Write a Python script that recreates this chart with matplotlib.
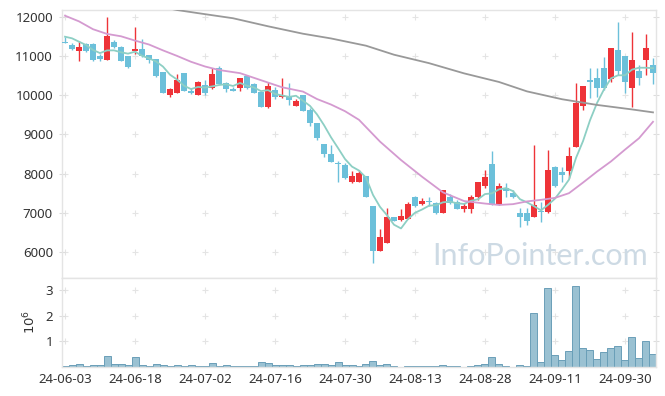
import numpy as np
import pandas as pd
import matplotlib
matplotlib.use("agg")
import matplotlib.pyplot as plt

# trading days (KRX), holidays removed
holidays = ['2024-06-06', '2024-08-15', '2024-09-16', '2024-09-17',
            '2024-09-18', '2024-10-01', '2024-10-03']
dates = pd.bdate_range('2024-06-03', '2024-10-08').drop(pd.to_datetime(holidays))

opens = [11350, 11286, 11133, 11296, 11310, 11005, 10900, 11360, 11225, 11000,
         11120, 11175, 11020, 10915, 10590, 10010, 10060, 10565, 10110, 10010,
         10250, 10180, 10685, 10320, 10165, 10190, 10490, 10275, 10080, 9705,
         10130, 9945, 9980, 9730, 10005, 9620, 9300, 8755, 8500, 8250,
         8220, 7775, 7790, 7940, 7175, 6035, 6235, 6885, 6815, 6830,
         7400, 7215, 7290, 7240, 7000, 7395, 7265, 7095, 7095, 7395,
         7685, 8245, 7200, 7640, 7510, 7000, 7000, 6885, 7050, 7030,
         8175, 8030, 8075, 8685, 9725, 10385, 10430, 10685, 10410, 11150,
         11000, 10190, 10615, 10895, 10770]
closes = [11330, 11176, 11227, 11125, 10900, 10930, 11515, 11235, 10880, 10725,
          11180, 11000, 10900, 10490, 10062, 10150, 10385, 10110, 10065, 10335,
          10060, 10540, 10285, 10165, 10115, 10440, 10190, 10060, 9705, 10240,
          9960, 9995, 9875, 9850, 9605, 9300, 8915, 8505, 8300, 8240,
          7895, 7945, 8005, 7395, 6035, 6375, 6885, 6790, 6920, 7225,
          7180, 7300, 7275, 7000, 7580, 7260, 7105, 7180, 7405, 7775,
          7920, 7200, 7685, 7565, 7395, 6885, 6800, 7200, 7030, 8090,
          7685, 7970, 8450, 9790, 10235, 10340, 10175, 10190, 11195, 10625,
          10345, 10895, 10430, 11195, 10570]
highs = [11480, 11322, 11388, 11320, 11320, 11060, 11985, 11400, 11240, 11000,
         11730, 11440, 11030, 10920, 10595, 10180, 10530, 10565, 10175, 10350,
         10385, 10685, 10745, 10345, 10210, 10445, 10510, 10300, 10085, 10335,
         10200, 10430, 10310, 9900, 10005, 9680, 9300, 8755, 8720, 8320,
         8280, 8075, 8090, 7940, 7180, 6580, 7115, 6900, 7090, 7270,
         7420, 7380, 7395, 7280, 7590, 7470, 7330, 7240, 7455, 7790,
         8090, 8575, 7750, 7770, 7580, 7115, 7115, 8730, 7280, 8600,
         8200, 8175, 8670, 10320, 10240, 10685, 10685, 10980, 11195, 11860,
         11000, 11620, 10760, 11550, 10940]
lows = [11320, 11158, 10878, 11100, 10870, 10865, 10895, 11200, 10860, 10700,
        11040, 10965, 10810, 10470, 10060, 9960, 10045, 10100, 10020, 10000,
        10000, 10160, 10280, 10080, 10110, 10110, 10160, 10050, 9700, 9680,
        9900, 9920, 9750, 9725, 9600, 9210, 8855, 8430, 8290, 7790,
        7855, 7750, 7780, 7390, 5730, 6030, 6230, 6780, 6795, 6830,
        7140, 7200, 7175, 6980, 6995, 7225, 7100, 7025, 6985, 7330,
        7625, 7195, 7195, 7410, 7370, 6630, 6690, 6880, 6770, 6990,
        7665, 7795, 7880, 8670, 9620, 9920, 9945, 10130, 10340, 10515,
        10060, 9705, 10260, 10515, 10285]
# volume in thousands of shares
volume = [30, 65, 105, 25, 65, 65, 420, 105, 105, 65,
          380, 65, 25, 105, 65, 25, 65, 25, 65, 25,
          25, 145, 25, 65, 25, 25, 25, 25, 180, 145,
          65, 65, 65, 25, 65, 65, 105, 105, 65, 180,
          65, 65, 25, 105, 220, 65, 105, 25, 10, 25,
          25, 25, 25, 25, 65, 25, 25, 10, 25, 65,
          105, 375, 105, 25, 10, 65, 25, 2100, 180, 3100,
          455, 275, 610, 3150, 730, 650, 300, 570, 730, 810,
          275, 1160, 340, 1000, 495]

# closes before 24-06-03 (seed for 5-day MA)
prior_closes = [11380, 11660, 11545, 11530]

# 20-day MA, read at sample days
ma20_idx = [0, 2, 4, 6, 8, 10, 12, 14, 16, 18, 20, 22, 25, 28, 31, 34, 36, 38, 40,
            42, 45, 48, 51, 54, 57, 60, 62, 64, 66, 68, 70, 72, 74, 76, 78, 80, 82, 84]
ma20_val = [12025, 11880, 11680, 11560, 11500, 11390, 11290, 11140, 11000, 10850,
            10730, 10640, 10560, 10380, 10200, 10090, 9900, 9760, 9590,
            9370, 8815, 8345, 7920, 7520, 7300, 7235, 7200, 7220, 7290, 7330,
            7380, 7500, 7770, 8050, 8310, 8610, 8900, 9320]
# long MA (grey), read at sample days
ma60_idx = [14, 16, 19, 24, 29, 34, 38, 43, 47, 52, 57, 62, 66, 71, 76, 81, 84]
ma60_val = [12240, 12170, 12090, 11960, 11755, 11565, 11445, 11260, 11030, 10815,
            10555, 10335, 10095, 9895, 9750, 9635, 9560]

plt.rcParams['font.family'] = ['Noto Sans', 'DejaVu Sans']

o = np.array(opens, float)
c = np.array(closes, float)
x = np.arange(len(c))
up = c >= o
colors = np.where(up, '#ee3338', '#6cc0da')

fig = plt.figure(figsize=(6.65, 3.96), dpi=100)
ax = fig.add_axes([62/665, 1-277.5/396, 594/665, 267.5/396])
axv = fig.add_axes([62/665, 1-367/396, 594/665, 89.5/396], sharex=ax)

# grid crosses
xt = np.arange(0, 85, 10)
gx, gy = np.meshgrid(xt, np.arange(6000, 12001, 1000))
ax.scatter(gx.ravel(), gy.ravel(), marker='+', s=22, color='#e4e4e4', lw=0.8, zorder=1)
gx, gy = np.meshgrid(xt, [1, 2, 3])
axv.scatter(gx.ravel(), gy.ravel(), marker='+', s=22, color='#e4e4e4', lw=0.8, zorder=1)

ax.vlines(x, lows, highs, colors=colors, linewidth=1.0, zorder=2)
ax.bar(x, np.maximum(np.abs(c - o), 20), bottom=np.minimum(o, c), width=0.72,
       color=colors, linewidth=0, zorder=3)

ma5 = pd.Series(prior_closes + closes).rolling(5).mean().values[4:]
ax.plot(x, ma5, color='#8dcfc4', lw=1.3, zorder=4)
ax.plot(ma20_idx, ma20_val, color='#d49ad0', lw=1.3, zorder=4)
ax.plot(ma60_idx, ma60_val, color='#999999', lw=1.3, zorder=4)

ax.text(0.9865, 0.047, 'InfoPointer.com', transform=ax.transAxes, ha='right',
        va='baseline', fontsize=22, color='#cddae4', family='Lato', zorder=1)

ax.set_xlim(-0.43, 84.43)
ax.set_ylim(5350, 12170)
ax.set_yticks(range(6000, 12001, 1000))
ax.tick_params(axis='y', direction='inout', length=5, color='#dddddd', width=0.8,
               labelsize=9.5, labelcolor='#333333', right=True, pad=4)
ax.tick_params(axis='x', bottom=False, labelbottom=False)

axv.bar(x, np.array(volume) / 1000, width=1.0, color='#9ac1d2',
        edgecolor='#6a9fb8', linewidth=0.7, zorder=2)
axv.set_ylim(0, 3.5)
axv.set_yticks([1, 2, 3])
axv.tick_params(axis='y', direction='inout', length=5, color='#dddddd', width=0.8,
                labelsize=9.5, labelcolor='#333333', right=True, pad=4)
axv.set_xticks(xt)
axv.set_xticklabels([dates[i].strftime('%y-%m-%d') for i in xt])
axv.tick_params(axis='x', length=0, labelsize=9.5, labelcolor='#333333', pad=4)
axv.set_ylabel('$10^{6}$', fontsize=9.5, color='#333333')
axv.yaxis.set_label_coords(-0.04, 0.5)

for a in (ax, axv):
    for s in a.spines.values():
        s.set_color('#e4e4e4')
        s.set_linewidth(1.0)

fig.savefig('out.png', dpi=100)
plt.close()
